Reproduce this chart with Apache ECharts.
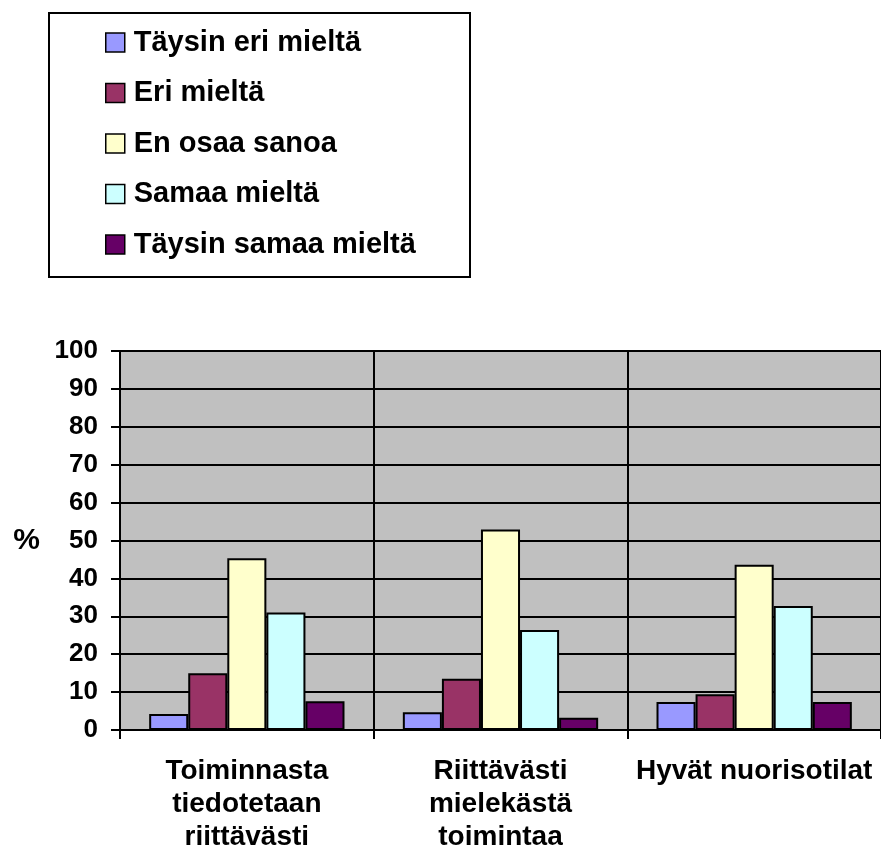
<!DOCTYPE html>
<html>
<head>
<meta charset="utf-8">
<script src="https://cdn.jsdelivr.net/npm/echarts@6/dist/echarts.min.js"></script>
<style>
html,body{margin:0;padding:0;background:#fff;}
#chart{width:881px;height:859px;}
</style>
</head>
<body>
<div id="chart"></div>
<script>
const categories = ['Toiminnasta\ntiedotetaan\nriittävästi', 'Riittävästi\nmielekästä\ntoimintaa', 'Hyvät nuorisotilat'];
const seriesNames = ['Täysin eri mieltä', 'Eri mieltä', 'En osaa sanoa', 'Samaa mieltä', 'Täysin samaa mieltä'];
const taysinEri = [4.2, 4.7, 7.4];
const eri = [15.0, 13.5, 9.4];
const enOsaa = [45.3, 52.9, 43.6];
const samaa = [31.0, 26.4, 32.7];
const taysinSamaa = [7.6, 3.2, 7.4];
const yTicks = [0, 10, 20, 30, 40, 50, 60, 70, 80, 90, 100];
const colors = ['#9999FF', '#993366', '#FFFFCC', '#CCFFFF', '#660066'];
const values = [taysinEri, eri, enOsaa, samaa, taysinSamaa];

const FONT = '"Liberation Sans", Arial, sans-serif';
const chart = echarts.init(document.getElementById('chart'));
chart.setOption({
  animation: false,
  backgroundColor: '#ffffff',
  graphic: [{
    type: 'rect',
    left: 48, top: 12,
    shape: { width: 421, height: 264 },
    style: { fill: '#fff', stroke: '#000', lineWidth: 2 },
    z: 0
  }],
  legend: {
    orient: 'vertical',
    left: 105,
    top: 28,
    padding: 0,
    itemWidth: 19,
    itemHeight: 19,
    itemGap: 21.5,
    icon: 'rect',
    data: seriesNames,
    textStyle: { fontFamily: FONT, fontSize: 29, fontWeight: 'bold', color: '#000', lineHeight: 29, padding: [0, 0, 0, 4] },
    itemStyle: { borderColor: '#000', borderWidth: 1.5 },
    z: 5
  },
  grid: { left: 120, right: -2, top: 351, bottom: 129, containLabel: false, show: true, backgroundColor: '#C0C0C0', borderWidth: 0 },
  xAxis: {
    type: 'category',
    data: categories,
    axisLine: { show: true, lineStyle: { color: '#000', width: 2 } },
    axisTick: { show: true, length: 9, lineStyle: { color: '#000', width: 2 }, interval: 0 },
    splitLine: { show: true, interval: 0, lineStyle: { color: '#000', width: 2 } },
    axisLabel: { interval: 0, margin: 25, fontFamily: FONT, fontSize: 28, fontWeight: 'bold', color: '#000', lineHeight: 33 }
  },
  yAxis: {
    type: 'value',
    min: 0, max: 100, interval: 10,
    name: '%',
    nameLocation: 'middle',
    nameRotate: 0,
    nameGap: 80,
    nameTextStyle: { fontFamily: FONT, fontSize: 30, fontWeight: 'bold', color: '#000' },
    axisLine: { show: true, lineStyle: { color: '#000', width: 2 } },
    axisTick: { show: true, length: 9, lineStyle: { color: '#000', width: 2 } },
    splitLine: { show: true, lineStyle: { color: '#000', width: 2 } },
    axisLabel: {
      margin: 22, fontFamily: FONT, fontSize: 26, fontWeight: 'bold', color: '#000',
      formatter: v => yTicks.includes(v) ? String(v) : ''
    }
  },
  series: seriesNames.map((name, i) => ({
    name: name,
    type: 'bar',
    data: values[i],
    barGap: '0%',
    barCategoryGap: '23%',
    itemStyle: { color: colors[i], borderColor: '#000', borderWidth: 2 },
    z: 3
  }))
});
</script>
</body>
</html>
